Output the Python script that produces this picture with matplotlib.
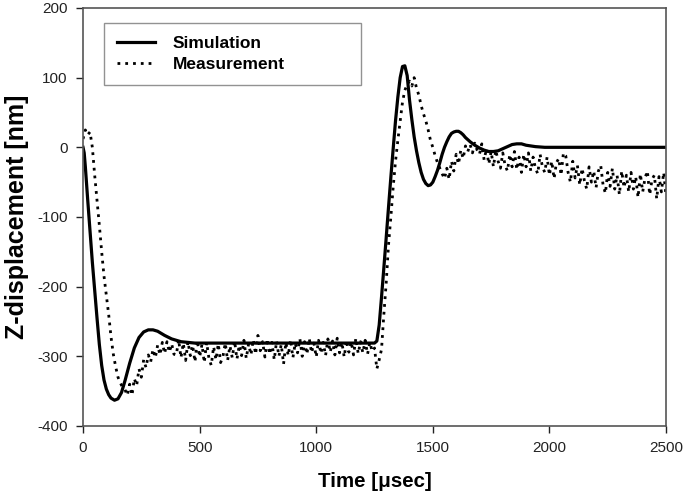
import numpy as np
import matplotlib
matplotlib.use("Agg")
import matplotlib.pyplot as plt

plt.rcParams["font.family"] = ["Liberation Sans", "DejaVu Sans"]
plt.rcParams["axes.unicode_minus"] = False

# ── simulation (smooth step response) ───────────────────────────────────────
sim_t = [0, 5, 10, 20, 30, 40, 50, 60, 70, 80, 90, 100, 110, 120, 135, 150,
         165, 180, 200, 220, 240, 260, 280, 300, 320, 350, 380, 420, 480,
         1250, 1260, 1270, 1280, 1290, 1300, 1310, 1320, 1330, 1340, 1350,
         1360, 1370, 1380, 1390, 1400, 1410, 1420, 1430, 1440, 1450, 1460,
         1470, 1480, 1490, 1500, 1510, 1520, 1530, 1540, 1550, 1560, 1570,
         1580, 1590, 1600, 1610, 1620, 1630, 1640, 1660, 1680, 1700, 1720,
         1740, 1760, 1780, 1800, 1820, 1840, 1860, 1880, 1900, 1940, 1980, 2500]
sim_z = [0, -8, -28, -75, -120, -165, -205, -245, -283, -313, -334, -347, -355,
         -360, -363, -361, -352, -335, -310, -288, -273, -265, -262, -262, -264,
         -270, -275, -279, -281,
         -281, -278, -255, -215, -173, -130, -86, -43, -2, 38, 72,
         100, 116, 117, 103, 68, 40, 15, -5, -22, -36, -46,
         -52, -55, -54, -50, -42, -33, -22, -10, 0, 8, 15,
         20, 22, 23, 23, 21, 18, 14, 8, 3, -1, -4,
         -6, -6, -5, -2, 1, 4, 5, 5, 3, 1, 0, 0]

# ── measurement, one sample every 10 µs from 0 to 2500 ──────────────────────
meas_start = [12, 25, 18, 22, 0, -40, -76, -112, -150, -185,
              -212, -240, -272, -297, -315, -330, -338, -345, -348, -356,
              -340, -356, -332, -342, -318, -330, -305, -316, -298, -308,
              -290, -302, -284, -298, -280, -296, -279, -294, -282, -297]
meas_plateau = [-298, -276, -302, -281, -306, -279, -299, -284, -308, -277,
                -301, -283, -309, -280, -303, -313, -286, -305, -282, -309,
                -300, -281, -306, -285, -302, -278, -304, -284, -299, -277,
                -303, -282, -298, -276, -297, -270, -292, -279, -301, -275,
                -297, -280, -305, -278, -300, -283, -311, -280, -299, -276,
                -302, -281, -295, -275, -300, -279, -297, -274, -295, -281,
                -301, -277, -296, -280, -299, -275, -294, -278, -298, -274,
                -295, -280, -301, -277, -294, -279, -298, -274, -296, -279,
                -295, -277, -297, -280, -293, -288]
meas_step = [-318, -305, -290, -240, -195, -140, -100, -57, -20, 10,
             38, 65, 82, 90, 95, 88, 100, 85, 75, 60,
             48, 38, 25, 10, 0, -12, -22, -30, -38, -45,
             -30, -46, -20, -34, -10, -24, -4, -16, 2, -6,
             4, -8, 6, -4]
meas_tail = [-10, 5, -18, -2, -24, -6, -28, -4, -20, -30,
             -8, -26, -34, -10, -28, -6, -32, -14, -36, -10,
             -28, -8, -34, -14, -30, -38, -10, -28, -36, -14,
             -40, -20, -45, -22, -16, -40, -8, -12, -36, -50,
             -20, -44, -26, -54, -30, -48, -60, -28, -50, -34,
             -58, -34, -26, -54, -66, -36, -56, -30, -60, -40,
             -68, -34, -58, -40, -64, -36, -60, -42, -72, -38,
             -64, -44, -34, -68, -46, -40, -74, -42, -64, -36,
             -70]
meas_z = meas_start + meas_plateau + meas_step + meas_tail
meas_t = np.arange(0, 2501, 10)
assert len(meas_t) == len(meas_z)

# ── plot ────────────────────────────────────────────────────────────────────
fig = plt.figure(figsize=(6.85, 4.99), dpi=100)
ax = fig.add_axes([0.1212, 0.1463, 0.8511, 0.8377])

ax.plot(sim_t, sim_z, color="black", lw=2.3, label="Simulation")
ax.plot(meas_t, meas_z, color="black", lw=2.0, linestyle=(0, (1, 1.8)),
        label="Measurement")

ax.set_xlim(0, 2500)
ax.set_ylim(-400, 200)
ax.set_xticks(range(0, 2501, 500))
ax.set_yticks(range(-400, 201, 100))
ax.tick_params(direction="out", length=5, width=1, labelsize=11, pad=6,
               colors="#222222")
for s in ax.spines.values():
    s.set_color("#555555")
    s.set_linewidth(1.2)

ax.set_xlabel("Time [\u03bcsec]", fontsize=14.8, fontweight="bold", labelpad=12)
ax.set_ylabel("Z-displacement [nm]", fontsize=18, fontweight="bold", labelpad=6)

leg = ax.legend(loc="upper left", bbox_to_anchor=(0.036, 0.964, 0.441, 0.0),
                mode="expand", borderaxespad=0, fancybox=False,
                prop={"weight": "bold", "size": 12.5}, handlelength=2.2,
                handletextpad=1.0, labelspacing=0.35, borderpad=0.75)
leg.get_frame().set_edgecolor("#777777")
leg.get_frame().set_linewidth(1.0)

fig.savefig("out.png", dpi=100)
